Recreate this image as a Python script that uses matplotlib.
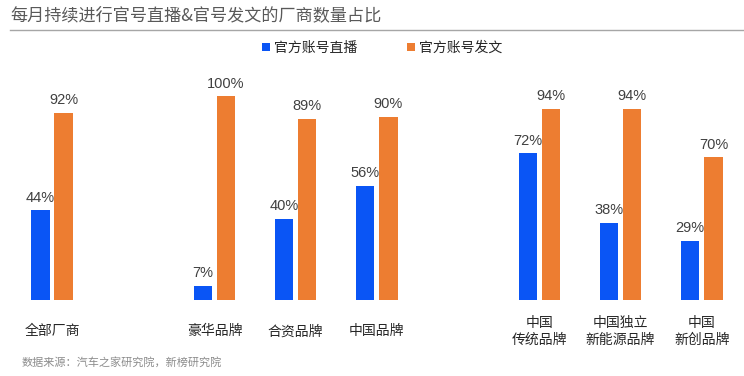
import matplotlib.pyplot as plt
from matplotlib.transforms import blended_transform_factory

plt.rcParams['font.family'] = ['Noto Sans CJK SC', 'DejaVu Sans']

# data
categories = ["全部厂商", "豪华品牌", "合资品牌", "中国品牌",
              "中国\n传统品牌", "中国独立\n新能源品牌", "中国\n新创品牌"]
positions = [0, 2, 3, 4, 6, 7, 8]
live = [44, 7, 40, 56, 72, 38, 29]
posts = [92, 100, 89, 90, 94, 94, 70]
series_names = ["官方账号直播", "官方账号发文"]

BLUE = "#0a55f5"
ORANGE = "#ed7d31"

fig = plt.figure(figsize=(7.44, 3.76), dpi=100)
ax = fig.add_axes([0, 76 / 376, 1, 224 / 376])

w = 0.225
off = 0.143
xb = [p - off for p in positions]
xo = [p + off for p in positions]
b1 = ax.bar(xb, live, width=w, color=BLUE, label=series_names[0])
b2 = ax.bar(xo, posts, width=w, color=ORANGE, label=series_names[1])

for bars, vals in ((b1, live), (b2, posts)):
    for r, v in zip(bars, vals):
        ax.annotate(f"{v}%", (r.get_x() + r.get_width() / 2, v),
                    xytext=(0, 4), textcoords="offset points",
                    ha="center", va="bottom", fontsize=10.5,
                    color="#404040", family=["Liberation Sans", "DejaVu Sans"])

ax.set_xlim(-0.64, 8.52)
ax.set_ylim(0, 110)
ax.axis("off")

trans = blended_transform_factory(ax.transData, ax.transAxes)
for p, c in zip(positions, categories):
    ax.text(p, -0.14, c, transform=trans, ha="center", va="center",
            fontsize=10, color="#262626", linespacing=1.25)

# legend
fig.legend(handles=[b1, b2], labels=series_names, loc="center",
           bbox_to_anchor=(382 / 744, 1 - 48 / 376), ncol=2, frameon=False,
           fontsize=10, handlelength=0.55, handleheight=0.55,
           handletextpad=0.3, columnspacing=3.6, labelcolor="#262626")

# title and rule
fig.text(10 / 744, 1 - 15 / 376, "每月持续进行官号直播&官号发文的厂商数量占比",
         ha="left", va="center", fontsize=12.3, color="#595959")
fig.add_artist(plt.Line2D([10 / 744, 1], [1 - 30 / 376, 1 - 30 / 376],
                          color="#a6a6a6", lw=1))

# source
fig.text(22 / 744, 1 - 362 / 376, "数据来源：汽车之家研究院，新榜研究院",
         ha="left", va="center", fontsize=8, color="#8c8c8c")

fig.savefig("out.png", dpi=100)
